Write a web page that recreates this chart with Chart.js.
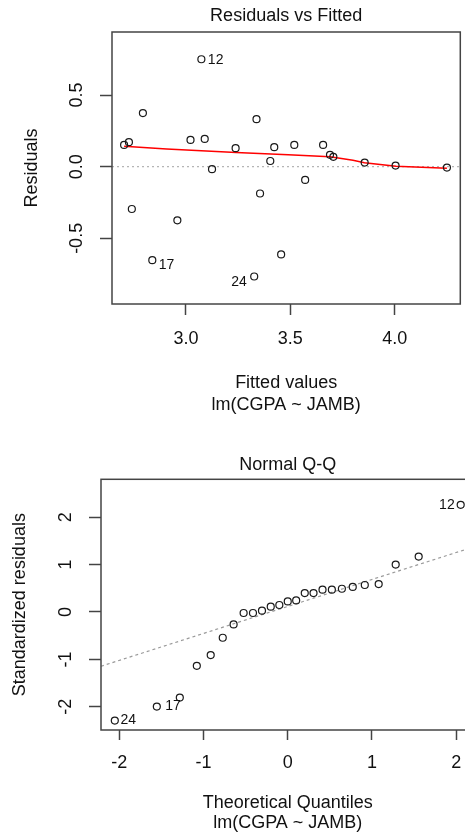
<!DOCTYPE html>
<html>
<head>
<meta charset="utf-8">
<title>lm(CGPA ~ JAMB) diagnostics</title>
<script src="https://cdn.jsdelivr.net/npm/chart.js@4.4.1/dist/chart.umd.min.js"></script>
<style>
  html, body { margin: 0; padding: 0; background: #fff; }
  body { width: 465px; height: 834px; overflow: hidden; position: relative; }
  canvas { position: absolute; left: 0; }
</style>
</head>
<body>
<canvas id="rvf" width="465" height="420" style="top:0"></canvas>
<canvas id="qq" width="480" height="414" style="top:420px"></canvas>

<script>
// Residuals vs Fitted
const fittedValues = [3.074, 2.794, 2.704, 2.727, 3.022, 3.090, 3.238, 3.338, 3.423, 3.404, 3.125, 3.519, 3.657,
  3.690, 3.706, 3.856, 4.004, 4.250, 3.571, 3.355, 3.456, 2.741, 2.959, 2.839, 3.327];
const residuals = [0.750, 0.374, 0.152, 0.171, 0.187, 0.194, 0.129, 0.332, 0.136, 0.040, -0.017, 0.152, 0.152,
  0.083, 0.069, 0.029, 0.008, -0.006, -0.092, -0.187, -0.612, -0.295, -0.374, -0.652, -0.766];
const rvfIds = ['12', '17', '24'];
const rvfIdIndex = [0, 23, 24];

// red smoother
const smoothX = [2.704, 2.908, 3.240, 3.490, 3.690, 3.800, 3.855, 4.006, 4.250];
const smoothY = [0.143, 0.124, 0.099, 0.083, 0.069, 0.045, 0.028, 0.003, -0.010];

const rvfXRange = [2.646, 4.314];
const rvfYRange = [-0.958, 0.940];
const rvfXTicks = [3.0, 3.5, 4.0];
const rvfYTicks = [-0.5, 0.0, 0.5];

// Normal Q-Q
const theoQuantiles = [-2.054, -1.555, -1.282, -1.080, -0.915, -0.772, -0.643, -0.524, -0.413, -0.306, -0.202, -0.100, 0.000,
  0.100, 0.202, 0.306, 0.413, 0.524, 0.643, 0.772, 0.915, 1.080, 1.282, 1.555, 2.054];
const stdResiduals = [-2.292, -1.996, -1.805, -1.135, -0.909, -0.543, -0.262, -0.021, -0.021, 0.027, 0.112, 0.148, 0.224,
  0.245, 0.400, 0.400, 0.470, 0.470, 0.490, 0.530, 0.570, 0.590, 1.000, 1.169, 2.262];
const qqIds = ['24', '17', '12'];
const qqIdIndex = [0, 1, 24];

const qqLineX = [-2.218, 2.218];
const qqLineY = [-1.145, 1.379];

const qqXRange = [-2.218, 2.218];
const qqYRange = [-2.49, 2.80];
const qqXTicks = [-2, -1, 0, 1, 2];
const qqYTicks = [-2, -1, 0, 1, 2];

const FONT = '"Liberation Sans", Arial, sans-serif';
const INK = '#111';
const FRAME = '#444';

Chart.defaults.font.family = FONT;
Chart.defaults.color = INK;

// frame round the plot region, like R's box()
const framePlugin = {
  id: 'frame',
  afterDraw(chart) {
    const { ctx, chartArea: a } = chart;
    ctx.save();
    ctx.strokeStyle = FRAME;
    ctx.lineWidth = 1.5;
    ctx.strokeRect(a.left, a.top, a.right - a.left, a.bottom - a.top);
    ctx.restore();
  }
};

// observation numbers next to the extreme points
const idPlugin = {
  id: 'pointIds',
  afterDatasetsDraw(chart, args, opts) {
    if (!opts.ids) return;
    const { ctx } = chart;
    const meta = chart.getDatasetMeta(0);
    ctx.save();
    ctx.font = '14px ' + FONT;
    ctx.fillStyle = INK;
    ctx.textBaseline = 'middle';
    opts.ids.forEach((id, k) => {
      const el = meta.data[opts.index[k]];
      const [dx, dy] = opts.offsets[k];
      ctx.textAlign = dx < 0 ? 'right' : 'left';
      ctx.fillText(id, el.x + dx, el.y + dy);
    });
    ctx.restore();
  }
};

function points(xs, ys) {
  return xs.map((x, i) => ({ x: x, y: ys[i] }));
}

function pointStyle() {
  return {
    pointStyle: 'circle',
    pointRadius: 3.5,
    pointHoverRadius: 3.5,
    pointBorderWidth: 1.2,
    pointBorderColor: '#1a1a1a',
    pointBackgroundColor: 'rgba(0,0,0,0)',
    showLine: false
  };
}

function xAxis(range, ticks, fmt, tickLen, pad, titleText, lineH, titlePadBottom, height) {
  return {
    type: 'linear',
    position: 'bottom',
    min: range[0],
    max: range[1],
    afterBuildTicks: s => { s.ticks = ticks.map(v => ({ value: v })); },
    afterFit: s => { s.height = height; },
    border: { display: false },
    grid: { drawOnChartArea: false, drawTicks: true, tickLength: tickLen, tickColor: FRAME, tickWidth: 1.5 },
    ticks: { padding: pad, font: { size: 18 }, color: INK, maxRotation: 0, callback: fmt },
    title: { display: true, text: titleText, color: INK, font: { size: 18, lineHeight: lineH }, padding: { top: 0, bottom: titlePadBottom } }
  };
}

function yAxis(range, ticks, fmt, tickLen, pad, titleText, titlePadTop, width) {
  return {
    type: 'linear',
    position: 'left',
    min: range[0],
    max: range[1],
    afterBuildTicks: s => { s.ticks = ticks.map(v => ({ value: v })); },
    afterFit: s => { s.width = width; },
    border: { display: false },
    grid: { drawOnChartArea: false, drawTicks: true, tickLength: tickLen, tickColor: FRAME, tickWidth: 1.5 },
    ticks: { padding: pad, font: { size: 18 }, color: INK, minRotation: 90, maxRotation: 90, crossAlign: 'center', callback: fmt },
    title: { display: true, text: titleText, color: INK, font: { size: 18, lineHeight: '22px' }, padding: { top: titlePadTop, bottom: 0 } }
  };
}

// Top: Residuals vs Fitted
new Chart(document.getElementById('rvf'), {
  type: 'scatter',
  data: {
    datasets: [
      Object.assign({ data: points(fittedValues, residuals) }, pointStyle()),
      {
        type: 'line',
        data: points(smoothX, smoothY),
        borderColor: '#ff0000',
        borderWidth: 1.5,
        pointRadius: 0,
        tension: 0
      },
      {
        type: 'line',
        data: points(rvfXRange, [0, 0]),
        borderColor: '#b5b5b5',
        borderWidth: 1.3,
        borderDash: [2, 3],
        pointRadius: 0
      }
    ]
  },
  options: {
    responsive: false,
    animation: false,
    devicePixelRatio: 1,
    layout: { padding: { left: 0, right: 1, top: 0, bottom: 0 } },
    plugins: {
      legend: { display: false },
      tooltip: { enabled: false },
      title: {
        display: true,
        text: 'Residuals vs Fitted',
        fullSize: false,
        color: INK,
        font: { size: 18, weight: 'normal', lineHeight: '22px' },
        padding: { top: 5, bottom: 5 }
      },
      pointIds: { ids: rvfIds, index: rvfIdIndex, offsets: [[6.5, 0.5], [6.5, 5], [-7.5, 5.5]] }
    },
    scales: {
      x: xAxis(rvfXRange, rvfXTicks, v => v.toFixed(1), 11, 13, ['Fitted values', 'lm(CGPA ~ JAMB)'], '22px', 4, 116),
      y: yAxis(rvfYRange, rvfYTicks, v => v.toFixed(1), 12, 7.5, 'Residuals', 20.7, 112)
    }
  },
  plugins: [framePlugin, idPlugin]
});

// Bottom: Normal Q-Q
new Chart(document.getElementById('qq'), {
  type: 'scatter',
  data: {
    datasets: [
      Object.assign({ data: points(theoQuantiles, stdResiduals) }, pointStyle()),
      {
        type: 'line',
        data: points(qqLineX, qqLineY),
        borderColor: '#9a9a9a',
        borderWidth: 1.2,
        borderDash: [3, 3],
        pointRadius: 0
      }
    ]
  },
  options: {
    responsive: false,
    animation: false,
    devicePixelRatio: 1,
    layout: { padding: { left: 0, right: 5.5, top: 0, bottom: 0 } },
    plugins: {
      legend: { display: false },
      tooltip: { enabled: false },
      title: {
        display: true,
        text: 'Normal Q-Q',
        fullSize: false,
        color: INK,
        font: { size: 18, weight: 'normal', lineHeight: '22px' },
        padding: { top: 34, bottom: 3.3 }
      },
      pointIds: { ids: qqIds, index: qqIdIndex, offsets: [[5.7, 0], [8.4, 0], [-6, 0]] }
    },
    scales: {
      x: xAxis(qqXRange, qqXTicks, v => String(v), 10, 12, ['Theoretical Quantiles', 'lm(CGPA ~ JAMB)'], '20px', 1, 104),
      y: yAxis(qqYRange, qqYTicks, v => String(v), 12, 15, 'Standardized residuals', 9, 101)
    }
  },
  plugins: [framePlugin, idPlugin]
});
</script>
</body>
</html>
